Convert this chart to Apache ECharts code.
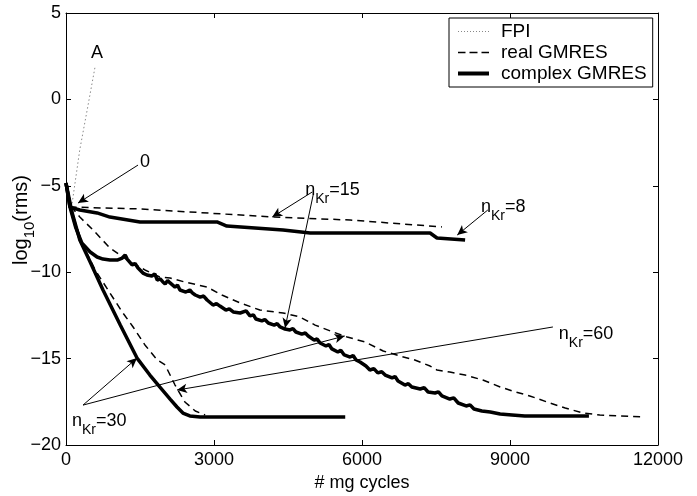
<!DOCTYPE html>
<html>
<head>
<meta charset="utf-8">
<script src="https://cdn.jsdelivr.net/npm/echarts@6/dist/echarts.min.js"></script>
<style>
  html, body { margin: 0; padding: 0; background: #fff; }
  #chart { width: 697px; height: 496px; }
</style>
</head>
<body>
<div id="chart"></div>
<script>
// [mg cycles, log10(rms)]
const fpi = [[0, -4.84], [120, -6.1], [280, -2.9], [430, -0.6], [590, 1.9]];

const real8 = [[0, -4.84], [80, -6.23], [1500, -6.34], [4220, -6.81], [5760, -6.98], [7620, -7.38]];
const complex8 = [[0, -4.84], [80, -6.23], [280, -6.40], [630, -6.57], [890, -6.81], [1500, -7.09],
  [3060, -7.09], [3260, -7.33], [4400, -7.56], [4950, -7.73], [7380, -7.73], [7520, -8.02], [8090, -8.14]];

const real15 = [[0, -4.84], [80, -6.11], [280, -6.81], [550, -7.56], [890, -8.60], [1240, -9.29],
  [1600, -9.87], [1900, -10.28], [2110, -10.34], [2410, -10.57], [2860, -10.86], [3160, -11.32],
  [3530, -11.78], [3930, -12.19], [4400, -12.36], [4740, -12.59], [5050, -13.06], [5410, -13.46],
  [5700, -13.75], [6060, -14.04], [6430, -14.56], [6770, -14.85], [7070, -15.08], [7380, -15.43],
  [7520, -15.66], [7780, -15.78], [8090, -15.95], [8450, -16.24], [8800, -16.64], [9040, -16.87],
  [9400, -17.16], [9810, -17.57], [10120, -17.86], [10480, -18.15], [10820, -18.26], [11230, -18.32],
  [11700, -18.38]];
const complex15 = [[0, -4.84], [80, -6.23], [200, -7.44], [320, -8.31], [490, -8.83], [630, -9.12],
  [750, -9.24], [890, -9.29], [1050, -9.29], [1140, -9.18], [1200, -9.0], [1240, -9.24], [1340, -9.58],
  [1400, -9.50], [1460, -9.76], [1560, -10.05], [1600, -9.95], [1640, -10.16], [1740, -10.22],
  [1800, -10.10], [1850, -10.45], [1910, -10.39], [1960, -10.55], [2010, -10.68], [2060, -10.48],
  [2110, -10.62], [2210, -10.86], [2260, -10.75], [2310, -11.03], [2430, -11.15], [2510, -11.03],
  [2560, -11.20], [2620, -11.32], [2720, -11.44], [2790, -11.38], [2860, -11.61], [2980, -11.90],
  [3050, -11.82], [3120, -11.96], [3240, -12.19], [3310, -12.12], [3390, -12.30], [3530, -12.36],
  [3650, -12.24], [3730, -12.53], [3800, -12.47], [3850, -12.71], [3970, -12.82], [4030, -12.74],
  [4100, -12.94], [4220, -13.06], [4280, -12.98], [4340, -13.17], [4440, -13.29], [4540, -13.34],
  [4600, -13.26], [4660, -13.46], [4780, -13.58], [4850, -13.52], [4910, -13.69], [5030, -13.93],
  [5090, -13.86], [5150, -14.10], [5270, -14.27], [5330, -14.18], [5390, -14.44], [5510, -14.62],
  [5570, -14.52], [5640, -14.79], [5760, -14.91], [5820, -14.82], [5880, -15.08], [5960, -15.20],
  [6080, -15.43], [6160, -15.66], [6240, -15.58], [6320, -15.83], [6400, -15.76], [6470, -15.95],
  [6610, -16.12], [6670, -16.04], [6730, -16.30], [6870, -16.53], [6940, -16.45], [7010, -16.64],
  [7180, -16.76], [7260, -16.68], [7340, -16.93], [7480, -16.99], [7550, -16.92], [7620, -17.16],
  [7780, -17.34], [7860, -17.27], [7950, -17.57], [8110, -17.74], [8190, -17.68], [8270, -17.92],
  [8430, -18.03], [8600, -18.09], [8800, -18.21], [9040, -18.26], [9300, -18.32], [9710, -18.32],
  [10220, -18.32], [10600, -18.32]];

const real30 = [[0, -4.84], [120, -6.52], [320, -8.31], [590, -9.87], [890, -11.20], [1140, -12.30],
  [1360, -13.17], [1600, -14.21], [1850, -15.08], [2010, -15.37], [2210, -16.53], [2410, -17.51],
  [2620, -18.03], [2820, -18.26]];
const complex30 = [[0, -4.84], [120, -6.52], [280, -8.14], [490, -9.41], [750, -11.03], [1100, -13.06],
  [1440, -14.97], [1700, -15.95], [1900, -16.64], [2110, -17.34], [2250, -17.80], [2370, -18.15],
  [2510, -18.32], [2720, -18.38], [5660, -18.38]];

// annotation arrows: [fromX, fromY, toX, toY]
const arrows = [
  [1460, -3.80, 243, -6.0],
  [4990, -5.36, 4180, -6.81],
  [5010, -5.53, 4440, -13.23],
  [8550, -6.40, 7930, -7.85],
  [345, -17.69, 1440, -14.97],
  [345, -17.69, 5650, -13.69],
  [9870, -13.17, 2250, -16.82]
];
const noteText = ['A', '0', 'n{sub|Kr}=15', 'n{sub|Kr}=8', 'n{sub|Kr}=60', 'n{sub|Kr}=30'];
const noteAt = [[628, 2.69], [1600, -3.62], [4850, -5.24], [8410, -6.23], [9990, -13.58], [120, -18.61]];
const noteCentered = [true, true, false, false, false, false];

const font = 'Liberation Sans, Arial, sans-serif';
const solid = { color: '#000', width: 3.5, type: 'solid' };
const dashed = { color: '#000', width: 1.5, type: [7, 5] };
const dotted = { color: '#888', width: 1, type: [1.5, 2.5] };

// legend icons as paths in a 31x14 box (the first two moves fix the box)
let dots = 'path://M0,0M31,14';
for (let x = 0; x <= 30; x += 3) dots += 'M' + x + ',6.5h1v1h-1z';
const iconDotted = dots;
const iconDashed = 'path://M0,0M31,14M0,6.25h7.5v1.5h-7.5zM11.5,6.25h8v1.5h-8zM23.5,6.25h7.5v1.5h-7.5z';
const iconSolid = 'path://M0,0M31,14M0,5h31v4h-31z';

function curve(name, data, lineStyle, z) {
  return {
    name: name, type: 'line', data: data, showSymbol: false, symbol: 'none',
    lineStyle: lineStyle, itemStyle: { color: lineStyle.color }, z: z,
    silent: true, animation: false
  };
}

const subStyle = { fontSize: 14, lineHeight: 14, verticalAlign: 'bottom', color: '#000', fontFamily: font };

const notes = noteText.map((t, i) => ({
  value: noteAt[i],
  label: {
    show: true,
    formatter: t,
    position: noteCentered[i] ? 'inside' : 'right',
    distance: 0,
    color: '#000',
    opacity: 1,
    fontSize: 18, lineHeight: 32, fontFamily: font,
    rich: { sub: subStyle }
  }
}));

const axisBase = {
  type: 'value',
  axisLine: { onZero: false, lineStyle: { color: '#000', width: 1 } },
  axisTick: { inside: true, length: 5, lineStyle: { color: '#000' } },
  splitLine: { show: false }
};

const chart = echarts.init(document.getElementById('chart'));
chart.setOption({
  animation: false,
  textStyle: { fontFamily: font },
  grid: { left: 66, right: 39, top: 13, bottom: 51, containLabel: false, outerBoundsMode: 'none' },
  legend: {
    data: [
      { name: 'FPI', icon: iconDotted },
      { name: 'real GMRES', icon: iconDashed },
      { name: 'complex GMRES', icon: iconSolid }
    ],
    orient: 'vertical',
    left: 449, top: 18,
    itemWidth: 31, itemHeight: 14, itemGap: 2,
    padding: [4, 6, 4, 9],
    backgroundColor: '#fff',
    borderColor: '#000', borderWidth: 1, borderRadius: 0,
    selectedMode: false,
    itemStyle: { borderWidth: 0 },
    textStyle: { fontSize: 19, color: '#000', fontFamily: font, padding: [0, 0, 0, 7] }
  },
  xAxis: [Object.assign({}, axisBase, {
    min: 0, max: 12000, interval: 3000,
    name: '# mg cycles', nameLocation: 'middle', nameGap: 26,
    nameTextStyle: { fontSize: 18, color: '#000' },
    axisLabel: { fontSize: 18, color: '#000', margin: 6, formatter: v => String(v) }
  }), Object.assign({}, axisBase, {
    position: 'top', min: 0, max: 12000, interval: 3000,
    axisLabel: { show: false }
  })],
  yAxis: [Object.assign({}, axisBase, {
    min: -20, max: 5, interval: 5,
    name: 'log{sub|10}(rms)', nameLocation: 'middle', nameGap: 29, nameMoveOverlap: false,
    nameTextStyle: {
      fontSize: 20, color: '#000', lineHeight: 32, padding: [0, 0, 0, 18],
      rich: { sub: { fontSize: 15, lineHeight: 15, verticalAlign: 'bottom', color: '#000' } }
    },
    axisLabel: { fontSize: 18, color: '#000', margin: 5, formatter: v => String(v).replace('-', '\u2212') }
  }), Object.assign({}, axisBase, {
    position: 'right', min: -20, max: 5, interval: 5,
    axisLabel: { show: false }
  })],
  series: [
    curve('FPI', fpi, dotted, 2),
    curve('real GMRES', real8, dashed, 3),
    curve('real GMRES', real15, dashed, 3),
    curve('real GMRES', real30, dashed, 3),
    curve('complex GMRES', complex8, solid, 4),
    curve('complex GMRES', complex15, solid, 4),
    curve('complex GMRES', complex30, solid, 4),
    {
      name: 'notes', type: 'scatter', symbolSize: 0, data: notes, z: 5, silent: true,
      itemStyle: { color: '#000' },
      markLine: {
        silent: true, animation: false,
        symbol: ['none', 'arrow'], symbolSize: [7, 10],
        label: { show: false },
        lineStyle: { color: '#000', width: 1, type: 'solid' },
        emphasis: { disabled: true },
        data: arrows.map(a => [{ coord: [a[0], a[1]] }, { coord: [a[2], a[3]] }])
      }
    }
  ]
});
</script>
</body>
</html>
